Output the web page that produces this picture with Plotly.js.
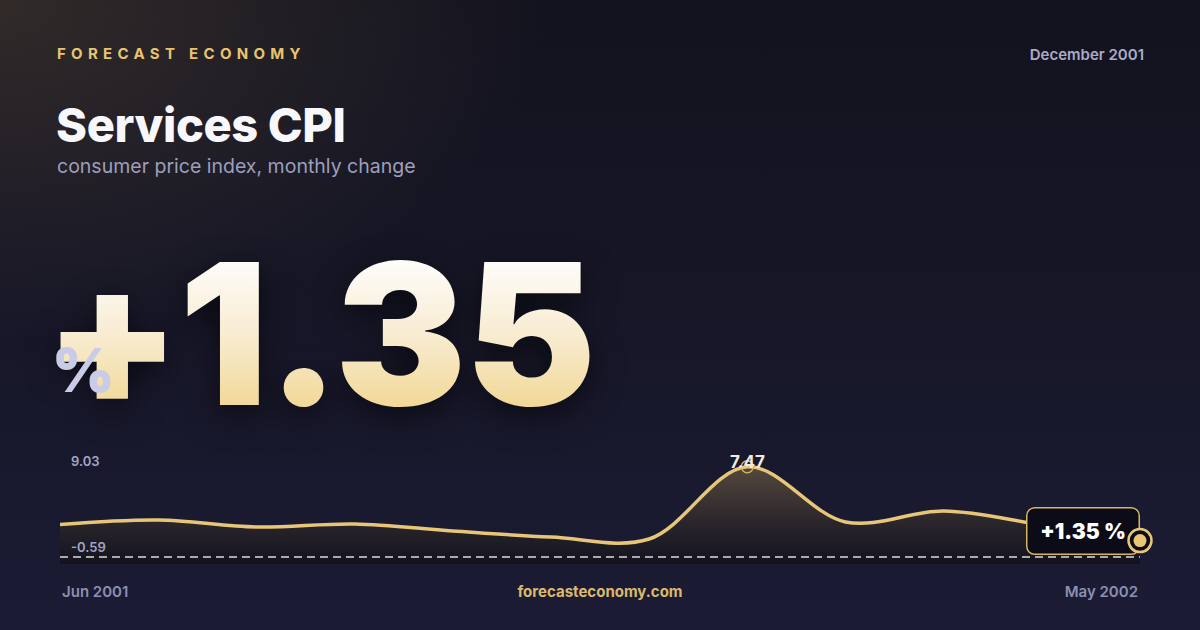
<!DOCTYPE html>
<html>
<head>
<meta charset="utf-8">
<script src="https://cdn.plot.ly/plotly-3.0.1.min.js"></script>
<style>
body { margin: 0; background: #161627; }
#card {
    position: relative; width: 1200px; height: 630px; overflow: hidden;
    font-family: Inter, "Noto Sans", sans-serif;
    background:
        radial-gradient(ellipse 760px 470px at 0 0, rgba(118, 96, 64, 0.30), rgba(118, 96, 64, 0) 72%),
        linear-gradient(180deg, #13131f 0%, #161626 45%, #1b1b35 100%);
}
.txt { position: absolute; line-height: 1; white-space: nowrap; }
.brand { left: 57px; top: 46px; font-size: 15px; font-weight: 700; letter-spacing: 5.3px; color: #e8c46f; }
.date { right: 56px; top: 47px; font-size: 15px; font-weight: 600; color: #a9abca; }
.title { left: 56px; top: 101px; font-size: 47px; font-weight: 800; letter-spacing: -0.4px; color: #f8f8fc; }
.sub { left: 57px; top: 157px; font-size: 19.5px; font-weight: 400; color: #9d9fbc; }
.big {
    left: 44px; top: 235px; font-size: 197px; font-weight: 900; letter-spacing: -1.5px;
    background: linear-gradient(180deg, #fefdfb 12%, #f8ecd2 50%, #f2d896 88%);
    -webkit-background-clip: text; background-clip: text; color: transparent;
    filter: drop-shadow(0 10px 16px rgba(0, 0, 0, 0.55));
}
.pct { left: 52px; top: 340px; font-size: 60px; font-weight: 900; color: #c9cce6; }
.foot { top: 584px; font-size: 15px; font-weight: 600; color: #8d8fb0; }
#plot { position: absolute; left: 0; top: 430px; width: 1200px; height: 150px; }
</style>
</head>
<body>
<div id="card">
    <div class="txt brand">FORECAST ECONOMY</div>
    <div class="txt date">December 2001</div>
    <div class="txt title">Services CPI</div>
    <div class="txt sub">consumer price index, monthly change</div>
    <div class="txt big" id="bignum"></div>
    <div class="txt pct">%</div>
    <div id="plot"></div>
    <div class="txt foot" id="first" style="left:62px;"></div>
    <div class="txt foot" style="left:0;width:1200px;text-align:center;color:#dcb96b;font-weight:700;">forecasteconomy.com</div>
    <div class="txt foot" id="lastm" style="right:62px;"></div>
</div>
<script>
var months = ['Jun 2001', 'Jul 2001', 'Aug 2001', 'Sep 2001', 'Oct 2001', 'Nov 2001',
              'Dec 2001', 'Jan 2002', 'Feb 2002', 'Mar 2002', 'Apr 2002', 'May 2002'];
var values = [2.69, 3.06, 2.48, 2.73, 2.15, 1.65, 1.48, 7.47, 2.90, 3.80, 2.65, 1.35];
var yMin = -0.59;
var yMax = 9.03;

var gold = '#e8c677';
var last = values.length - 1;
var peak = values.indexOf(Math.max.apply(null, values));

function signed(v) {
    return (v >= 0 ? '+' : '') + v.toFixed(2);
}

document.getElementById('bignum').textContent = signed(values[last]);
document.getElementById('first').textContent = months[0];
document.getElementById('lastm').textContent = months[last];

var traces = [
    {
        x: months, y: months.map(function () { return yMin; }),
        mode: 'lines', line: {width: 0, color: 'rgba(0,0,0,0)'}, hoverinfo: 'skip'
    },
    {
        x: months, y: values, mode: 'lines',
        line: {color: gold, width: 3.5, shape: 'spline', smoothing: 1},
        fill: 'tonexty',
        fillgradient: {
            type: 'vertical', start: yMin, stop: values[peak],
            colorscale: [[0, 'rgb(19,18,30)'], [0.4, 'rgb(40,36,42)'], [1, 'rgb(84,72,62)']]
        }
    },
    {
        x: [months[peak]], y: [values[peak]], mode: 'markers', cliponaxis: false,
        marker: {symbol: 'circle-open', size: 12, color: '#d4b062', line: {width: 1.5}}
    },
    {
        x: [months[last], months[last]], y: [values[last], values[last]], mode: 'markers', cliponaxis: false,
        marker: {size: [23, 13], color: ['#0c0d19', gold], opacity: 1, line: {color: gold, width: [2.5, 0]}}
    }
];

var layout = {
    width: 1200,
    height: 150,
    margin: {l: 60, r: 60, t: 18, b: 16},
    paper_bgcolor: 'rgba(0,0,0,0)',
    plot_bgcolor: 'rgba(0,0,0,0)',
    showlegend: false,
    font: {family: 'Inter, sans-serif'},
    xaxis: {type: 'category', range: [0, last], visible: false},
    yaxis: {range: [yMin, yMax], visible: false},
    shapes: [{
        type: 'line', xref: 'paper', x0: 0, x1: 1, y0: 0, y1: 0,
        line: {color: 'rgba(255,255,255,0.85)', width: 1.5, dash: '8px,5px'}
    }],
    annotations: [
        {
            xref: 'paper', x: 0, y: yMax, xanchor: 'left', yanchor: 'middle', xshift: 9, yshift: -13,
            text: yMax.toFixed(2), showarrow: false, font: {size: 13, color: '#a3a5c4', weight: 600}
        },
        {
            xref: 'paper', x: 0, y: yMin, xanchor: 'left', yanchor: 'middle', xshift: 9, yshift: 17,
            text: yMin.toFixed(2), showarrow: false, font: {size: 13, color: '#a3a5c4', weight: 600}
        },
        {
            x: months[peak], y: values[peak], yanchor: 'middle', yshift: 5,
            text: values[peak].toFixed(2), showarrow: false, font: {size: 17, color: '#efebe3', weight: 700}
        },
        {
            x: months[last], y: values[last], xanchor: 'right', yanchor: 'middle', yshift: 10,
            text: signed(values[last]) + ' %', showarrow: false,
            bgcolor: '#0b0c18', bordercolor: '#d9b464', borderwidth: 1.5, borderpad: 0,
            width: 111, height: 45, font: {size: 21, color: '#ffffff', weight: 900}
        }
    ]
};

Plotly.newPlot('plot', traces, layout, {staticPlot: true}).then(function (gd) {
    gd.querySelectorAll('.annotation rect.bg').forEach(function (r) {
        r.setAttribute('rx', 8);
        r.setAttribute('ry', 8);
    });
    // end marker sits above the badge
    var tr = gd.querySelectorAll('.scatterlayer .trace');
    var end = tr[tr.length - 1];
    var plot = end.parentNode.parentNode;
    var g = document.createElementNS('http://www.w3.org/2000/svg', 'g');
    g.setAttribute('transform', plot.getAttribute('transform') || '');
    g.appendChild(end);
    gd._fullLayout._toppaper.node().appendChild(g);
});
</script>
</body>
</html>
